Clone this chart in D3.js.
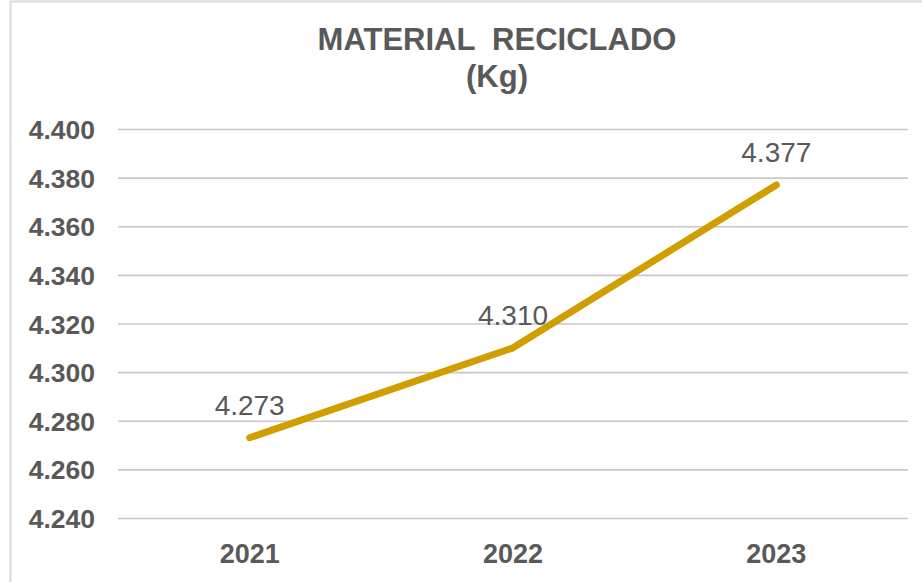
<!DOCTYPE html>
<html>
<head>
<meta charset="utf-8">
<script src="https://cdn.jsdelivr.net/npm/d3@7"></script>
<style>
  html, body { margin: 0; padding: 0; background: #fff; }
  svg { display: block; font-family: "Liberation Sans", Arial, sans-serif; }
</style>
</head>
<body>
<svg id="chart" width="922" height="582"></svg>
<script>
// Recycled material per year, in kg
const years = ["2021", "2022", "2023"];
const kilos = [4273, 4310, 4377];
const yTicks = [4240, 4260, 4280, 4300, 4320, 4340, 4360, 4380, 4400];
const titleLines = ["MATERIAL  RECICLADO", "(Kg)"];

const svg = d3.select("#chart");
const W = 922, H = 582;
const margin = { left: 118, right: 14, top: 129, bottom: 64 };
const textColor = "#595959";
const fontFamily = "'Liberation Sans', Arial, sans-serif";

// thousands separator as a dot
const fmt = d3.formatLocale({ decimal: ",", thousands: ".", grouping: [3], currency: ["", ""] }).format(",d");

// outer chart frame
svg.append("rect")
  .attr("x", 10.5).attr("y", 1.5)
  .attr("width", W + 20).attr("height", H + 20)
  .attr("fill", "#fff").attr("stroke", "#d9d9d9").attr("stroke-width", 2);

const x = d3.scaleBand().domain(years).range([margin.left, W - margin.right]);
const y = d3.scaleLinear().domain([4240, 4400]).range([H - margin.bottom, margin.top]);

// title
svg.append("g").selectAll("text").data(titleLines).join("text")
  .attr("x", 497).attr("y", (d, i) => 50 + i * 37)
  .attr("text-anchor", "middle")
  .attr("font-size", 31).attr("font-weight", "bold")
  .attr("fill", textColor)
  .style("white-space", "pre")
  .text(d => d);

// horizontal gridlines + y labels
const yAxis = d3.axisLeft(y).tickValues(yTicks).tickFormat(fmt)
  .tickSize(-(W - margin.right - margin.left)).tickPadding(23);
const gy = svg.append("g").attr("transform", `translate(${margin.left},0)`).call(yAxis);
gy.select(".domain").remove();
gy.selectAll(".tick line").attr("stroke", "#c8c8c8").attr("stroke-width", 1.6);
gy.selectAll(".tick text")
  .attr("font-size", 26.5).attr("font-weight", "bold")
  .attr("dy", "0.36em")
  .attr("fill", textColor).attr("font-family", fontFamily);

// x category labels
const xAxis = d3.axisBottom(x).tickSize(0).tickPadding(0);
const gx = svg.append("g").attr("transform", `translate(0,${H - margin.bottom})`).call(xAxis);
gx.select(".domain").remove();
gx.selectAll(".tick text")
  .attr("y", 45).attr("dy", 0)
  .attr("font-size", 27).attr("font-weight", "bold")
  .attr("fill", textColor).attr("font-family", fontFamily);

const pts = years.map((yr, i) => ({ yr, v: kilos[i] }));
const cx = d => x(d.yr) + x.bandwidth() / 2;

// series line
svg.append("path")
  .datum(pts)
  .attr("fill", "none")
  .attr("stroke", "#d09e00")
  .attr("stroke-width", 7)
  .attr("stroke-linecap", "round")
  .attr("stroke-linejoin", "round")
  .attr("d", d3.line().x(cx).y(d => y(d.v)));

// value labels above points
svg.append("g").selectAll("text").data(pts).join("text")
  .attr("x", cx).attr("y", d => y(d.v) - 23)
  .attr("text-anchor", "middle")
  .attr("font-size", 28)
  .attr("fill", textColor)
  .text(d => fmt(d.v));
</script>
</body>
</html>
